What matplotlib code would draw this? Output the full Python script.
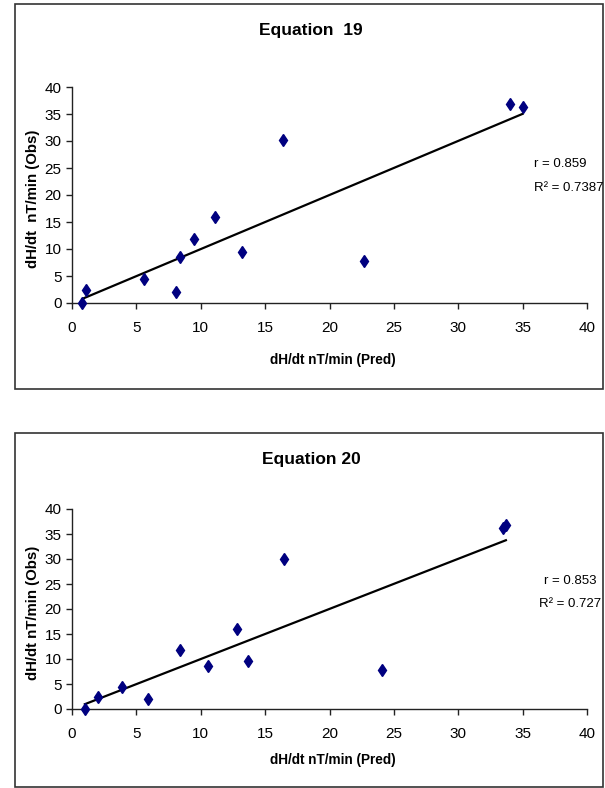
import matplotlib
matplotlib.use("Agg")
import matplotlib.pyplot as plt
from matplotlib.patches import Rectangle
import numpy as np

# observed dH/dt values (same stations for both equations)
obs_19 = [0.0, 2.5, 4.4, 2.0, 8.6, 11.8, 16.0, 9.5, 30.1, 7.8, 36.8, 36.3]
pred_19 = [0.8, 1.1, 5.6, 8.1, 8.4, 9.5, 11.1, 13.2, 16.4, 22.7, 34.0, 35.0]

obs_20 = [0.0, 2.5, 4.5, 2.0, 11.8, 8.6, 16.0, 9.6, 30.1, 7.9, 36.3, 36.8]
pred_20 = [1.0, 2.0, 3.9, 5.9, 8.4, 10.6, 12.8, 13.7, 16.5, 24.1, 33.5, 33.7]

ticks = [0, 5, 10, 15, 20, 25, 30, 35, 40]

W, H = 605, 788
FONT = ["Liberation Sans", "DejaVu Sans"]

fig = plt.figure(figsize=(W / 100, H / 100), dpi=100)
fig.patch.set_facecolor("white")


def fx(px):
    return px / W


def fy(py):
    return 1 - py / H


def panel(box, axbox, pred, obs, title, ylabel, r_txt, r2_txt, title_y, xlab_y, r_pos, r2_pos):
    # outer frame
    bx0, by0, bx1, by1 = box
    fig.patches.append(Rectangle((fx(bx0), fy(by1)), fx(bx1 - bx0), (by1 - by0) / H,
                                 transform=fig.transFigure, fill=False,
                                 edgecolor="#333333", linewidth=1.2))
    x0, y0, x1, y1 = axbox
    ax = fig.add_axes([fx(x0), fy(y1), fx(x1 - x0), (y1 - y0) / H])
    ax.set_xlim(0, 40)
    ax.set_ylim(0, 40)
    ax.set_xticks(ticks)
    ax.set_yticks(ticks)
    for s in ["top", "right"]:
        ax.spines[s].set_visible(False)
    for s in ["left", "bottom"]:
        ax.spines[s].set_color("#222222")
        ax.spines[s].set_linewidth(1.0)
    ax.tick_params(direction="out", length=4, width=1, color="#222222")
    ax.tick_params(axis="x", pad=9)
    ax.tick_params(axis="y", pad=3.5)
    for lab in ax.get_xticklabels() + ax.get_yticklabels():
        lab.set_family(FONT)
        lab.set_fontsize(11)

    ax.plot(pred, obs, linestyle="none", marker="d", markersize=6.2,
            color="#000080", clip_on=False, zorder=3)

    # linear trend line over the range of predictions
    k, b = np.polyfit(pred, obs, 1)
    xs = np.array([min(pred), max(pred)])
    ax.plot(xs, k * xs + b, color="black", linewidth=1.6, zorder=2)

    fig.text(fx(311), fy(title_y), title, ha="center", va="center",
             family=FONT, fontweight="bold", fontsize=12.5)
    fig.text(fx(333), fy(xlab_y), "dH/dt nT/min (Pred)", ha="center", va="center",
             family=FONT, fontweight="bold", fontsize=9.8)
    fig.text(fx(33), fy((y0 + y1) / 2 + 4), ylabel, ha="center", va="center",
             rotation=90, family=FONT, fontweight="bold", fontsize=10.8)
    fig.text(fx(r_pos[0]), fy(r_pos[1]), r_txt, ha="left", va="center",
             family=FONT, fontsize=9.5)
    fig.text(fx(r2_pos[0]), fy(r2_pos[1]), r2_txt, ha="left", va="center",
             family=FONT, fontsize=9.5)
    return ax


panel((14.7, 4, 603, 389), (72, 87, 587, 303), pred_19, obs_19,
      "Equation  19", "dH/dt  nT/min (Obs)", "r = 0.859", "R\u00b2 = 0.7387",
      31, 360, (534, 164), (534, 188))

panel((14.7, 433, 603, 787), (72, 509, 587, 709), pred_20, obs_20,
      "Equation 20", "dH/dt nT/min (Obs)", "r = 0.853", "R\u00b2 = 0.727",
      459, 760, (544, 581), (539, 604))

fig.savefig("out.png", dpi=100)
